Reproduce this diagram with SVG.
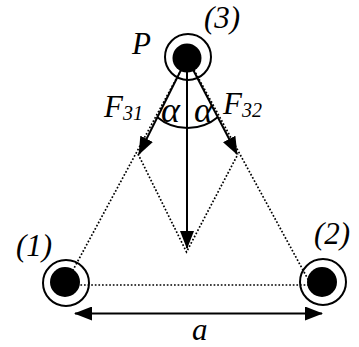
<svg xmlns="http://www.w3.org/2000/svg" width="359" height="347" viewBox="0 0 359 347">
<style>
.lbl{font-family:"Liberation Serif","Times New Roman",serif;font-style:italic;font-size:31px;fill:#000}
.sub{font-size:20px}
.al{font-size:36px}
.dot{fill:none;stroke:#000;stroke-width:1.7;stroke-dasharray:1.7 1.9}
.arr{fill:none;stroke:#000;stroke-width:2}
.ring{fill:none;stroke:#000;stroke-width:2}
.core{fill:#000}
</style>
<defs>
<marker id="ah" markerUnits="userSpaceOnUse" markerWidth="18" markerHeight="14" refX="17" refY="7" orient="auto-start-reverse" viewBox="0 0 18 14">
<path d="M0,0 L18,7 L0,14 z" fill="#000"/>
</marker>
</defs>
<rect width="359" height="347" fill="#fff"/>
<g id="connectors">
<line class="dot" x1="188" y1="57" x2="66" y2="283"/>
<line class="dot" x1="187" y1="57" x2="310" y2="283"/>
<line class="dot" x1="66" y1="285" x2="323" y2="285"/>
<polyline class="dot" points="138,154 186.5,252 238,154"/>
<line class="arr" x1="186" y1="60" x2="139" y2="154" marker-end="url(#ah)"/>
<line class="arr" x1="188" y1="60" x2="237" y2="154" marker-end="url(#ah)"/>
<line class="arr" x1="187" y1="60" x2="187" y2="248" marker-end="url(#ah)"/>
<path class="arr" d="M157,117 A47.5,47.5 0 0 0 218,117"/>
<line class="arr" x1="75" y1="313.5" x2="322" y2="313.5" marker-start="url(#ah)" marker-end="url(#ah)"/>
</g>
<g id="node3">
<circle class="ring" cx="188" cy="57" r="23"/>
<circle class="core" cx="187" cy="58" r="14.5"/>
<text class="lbl" x="132" y="54">P</text>
<text class="lbl" x="204" y="28">(3)</text>
</g>
<g id="node1">
<circle class="ring" cx="66" cy="283" r="23"/>
<circle class="core" cx="65" cy="282" r="15"/>
<text class="lbl" x="16" y="256">(1)</text>
</g>
<g id="node2">
<circle class="ring" cx="323" cy="282" r="23"/>
<circle class="core" cx="322" cy="282" r="15"/>
<text class="lbl" x="314" y="244">(2)</text>
</g>
<g id="labels">
<text class="lbl" x="104" y="117">F<tspan class="sub" dy="3">31</tspan></text>
<text class="lbl" x="223" y="114">F<tspan class="sub" dy="3">32</tspan></text>
<text class="lbl al" x="161" y="122">α</text>
<text class="lbl al" x="194" y="122">α</text>
<text class="lbl" x="192" y="340">a</text>
</g>
</svg>
